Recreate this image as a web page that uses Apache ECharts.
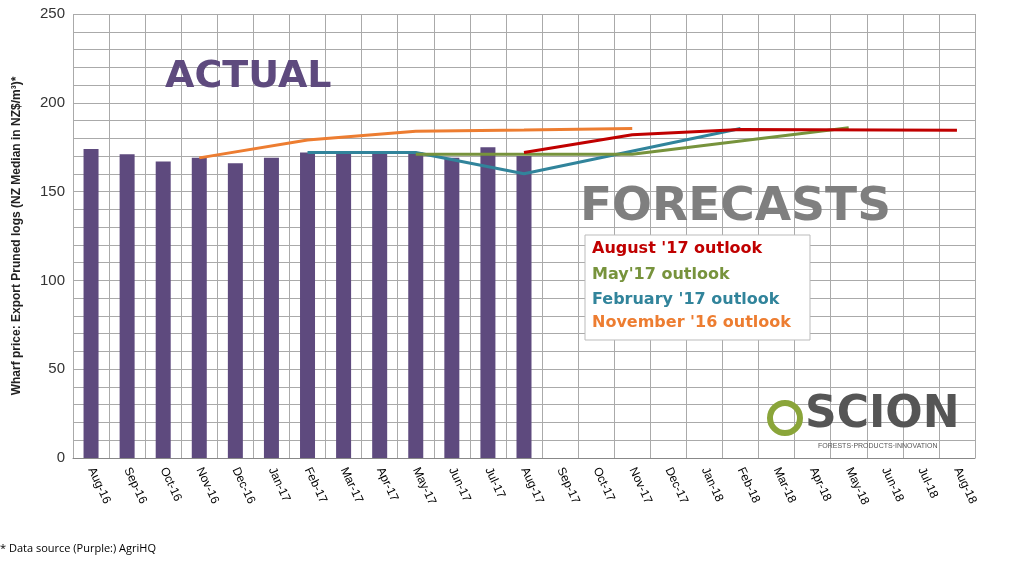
<!DOCTYPE html>
<html><head><meta charset="utf-8">
<script src="https://cdn.jsdelivr.net/npm/echarts@6/dist/echarts.min.js"></script>
<style>body{margin:0}#c{width:1024px;height:570px}</style></head>
<body><div id="c"></div>
<script>
const categories=['Aug-16','Sep-16','Oct-16','Nov-16','Dec-16','Jan-17','Feb-17','Mar-17','Apr-17','May-17','Jun-17','Jul-17','Aug-17','Sep-17','Oct-17','Nov-17','Dec-17','Jan-18','Feb-18','Mar-18','Apr-18','May-18','Jun-18','Jul-18','Aug-18'];
const actual=[174,171,167,169,166,169,172,172,172,172,169,175,170];
const aug17=[null,null,null,null,null,null,null,null,null,null,null,null,172,null,null,182,null,null,185,null,null,null,null,null,184.5];
const may17=[null,null,null,null,null,null,null,null,null,171,null,null,171,null,null,171,null,null,null,null,null,186];
const feb17=[null,null,null,null,null,null,172,null,null,172,null,null,160,null,null,null,null,null,185.5];
const nov16=[null,null,null,169,null,null,179,null,null,184,null,null,184.7,null,null,185.5];
const c=echarts.init(document.getElementById('c'));
const line=(d,col)=>({type:'line',data:d,connectNulls:true,symbol:'none',lineStyle:{color:col,width:3},itemStyle:{color:col}});
c.setOption({
animation:false,
grid:{left:73,right:49,top:14,bottom:112},
xAxis:{type:'category',data:categories,boundaryGap:true,
 axisLabel:{rotate:-65,color:'#000',fontSize:12,fontFamily:'Liberation Sans',interval:0,margin:10},
 axisLine:{lineStyle:{color:'#888'}},axisTick:{show:false},
 splitLine:{show:true,lineStyle:{color:'#aaa'}}},
yAxis:{type:'value',min:0,max:250,interval:10,
 axisLabel:{color:'#333',fontSize:15,fontFamily:'Liberation Sans',formatter:v=>v%50===0?v:''},
 axisLine:{show:false},axisTick:{show:false},
 splitLine:{lineStyle:{color:'#aaa'}},
 name:'Wharf price: Export Pruned logs (NZ Median in NZ$/m³)*',nameLocation:'middle',nameGap:50,
 nameTextStyle:{fontSize:12,fontWeight:'bold',color:'#222',fontFamily:'Liberation Sans'}},
series:[
 {type:'bar',data:actual,barWidth:15,itemStyle:{color:'#5e4a7e'}},
 line(nov16,'#ed7d31'),line(feb17,'#31849b'),line(may17,'#77933c'),line(aug17,'#c00000')
],
graphic:[
 {type:'text',z:100,left:165,top:58,style:{text:'ACTUAL',font:'bold 38px "DejaVu Sans"',fill:'#5e4a7e'}},
 {type:'text',z:100,left:580,top:184,style:{text:'FORECASTS',font:'bold 47px "DejaVu Sans"',fill:'#7f7f7f'}},
 {type:'rect',z:100,shape:{x:585,y:235,width:225,height:105},style:{fill:'#fff',stroke:'#bbb'}},
 {type:'text',z:101,left:592,top:241,style:{text:"August '17 outlook",font:'bold 16px "DejaVu Sans"',fill:'#c00000'}},
 {type:'text',z:101,left:592,top:267,style:{text:"May'17 outlook",font:'bold 16px "DejaVu Sans"',fill:'#77933c'}},
 {type:'text',z:101,left:592,top:292,style:{text:"February '17 outlook",font:'bold 16px "DejaVu Sans"',fill:'#31849b'}},
 {type:'text',z:101,left:592,top:315,style:{text:"November '16 outlook",font:'bold 16px "DejaVu Sans"',fill:'#ed7d31'}},
 {type:'circle',z:100,shape:{cx:785,cy:418,r:15},style:{fill:'none',stroke:'#8aa53a',lineWidth:6}},
 {type:'text',z:100,left:805,top:394,style:{text:'SCION',font:'bold 44px "DejaVu Sans"',fill:'#555'}},
 {type:'text',z:100,left:818,top:443,style:{text:'FORESTS·PRODUCTS·INNOVATION',font:'7px "Liberation Sans"',fill:'#555'}},
 {type:'text',left:0,top:543,style:{text:'* Data source (Purple:) AgriHQ',font:'11px "Open Sans"',fill:'#000'}}
]
});
</script></body></html>
